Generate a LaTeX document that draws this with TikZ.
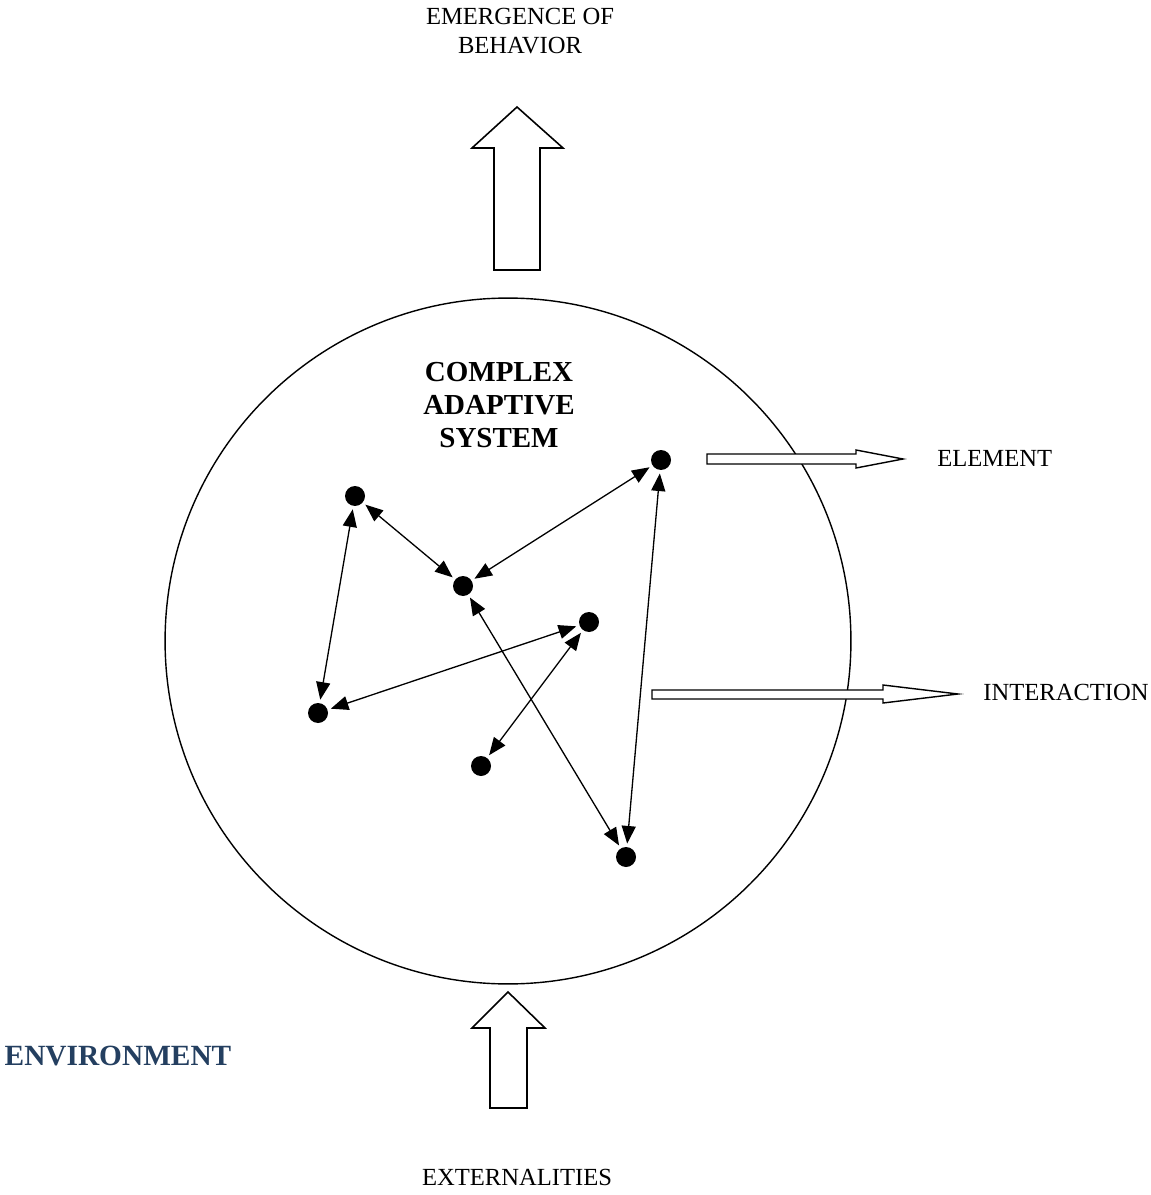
\documentclass[tikz,border=0pt]{standalone}
\usepackage{fontspec}
\setmainfont{Liberation Serif}
\usepackage{xcolor}
\usepackage{tikz}
\usetikzlibrary{positioning, arrows.meta}
\definecolor{EnvBlue}{HTML}{243F60}

\begin{document}
\begin{tikzpicture}[x=0.02cm, y=-0.02cm,
            elem/.style={circle, fill=black, inner sep=0pt, minimum size=0.40cm, outer sep=2pt},
            link/.style={{Triangle[length=10pt, width=8pt]}-{Triangle[length=10pt, width=8pt]}, line width=0.75pt},
            blockarrow/.style={draw, line width=0.9pt, fill=white, line join=miter},
            note/.style={font=\fontsize{14}{16}\selectfont, align=center, inner sep=0pt},
            title/.style={font=\bfseries\fontsize{16.5}{18.7}\selectfont, align=center, inner sep=0pt}
        ]
            \useasboundingbox (0,0) rectangle (1150,1195);

            % System boundary
            \node[draw, circle, line width=0.8pt, inner sep=0pt, minimum size=13.72cm] at (508,641) (system) {};
            \node[title] at (499,405) (systitle) {COMPLEX\\ADAPTIVE\\SYSTEM};

            % Top part
            \node[note] at (520,31) (emergence) {EMERGENCE OF\\BEHAVIOR};
            \draw[blockarrow] (494,270) -- (494,148) -- (472,148) -- (517,107) -- (563,148) -- (540,148) -- (540,270) -- cycle;

            % Bottom part
            \draw[blockarrow] (490,1108) -- (490,1028) -- (472,1028) -- (508,992) -- (545,1028) -- (527,1028) -- (527,1108) -- cycle;
            \node[note] at (517,1177) (externalities) {EXTERNALITIES};
            \node[note, font=\bfseries\fontsize{16.7}{19}\selectfont, text=EnvBlue] at (118,1056) (environment) {ENVIRONMENT};

            % Elements
            \node[elem] at (661,460) (e1) {};
            \node[elem] at (355,496) (e2) {};
            \node[elem] at (463,586) (e3) {};
            \node[elem] at (589,622) (e4) {};
            \node[elem] at (318,713) (e5) {};
            \node[elem] at (481,766) (e6) {};
            \node[elem] at (626,857) (e7) {};

            % Interactions
            \draw[link] (e2) -- (e3);
            \draw[link] (e3) -- (e1);
            \draw[link] (e2) -- (e5);
            \draw[link] (e5) -- (e4);
            \draw[link] (e6) -- (e4);
            \draw[link] (e3) -- (e7);
            \draw[link] (e1) -- (e7);

            % Legend
            \draw[blockarrow, line width=0.8pt] (707,454) -- (856,454) -- (856,450) -- (903,459) -- (856,468) -- (856,464) -- (707,464) -- cycle;
            \node[note, anchor=west] at (937,458) (element) {ELEMENT};
            \draw[blockarrow, line width=0.8pt] (652,690) -- (883,690) -- (883,685) -- (958,694) -- (883,703) -- (883,699) -- (652,699) -- cycle;
            \node[note, anchor=west] at (983,692) (interaction) {INTERACTION};

        \end{tikzpicture}
\end{document}
